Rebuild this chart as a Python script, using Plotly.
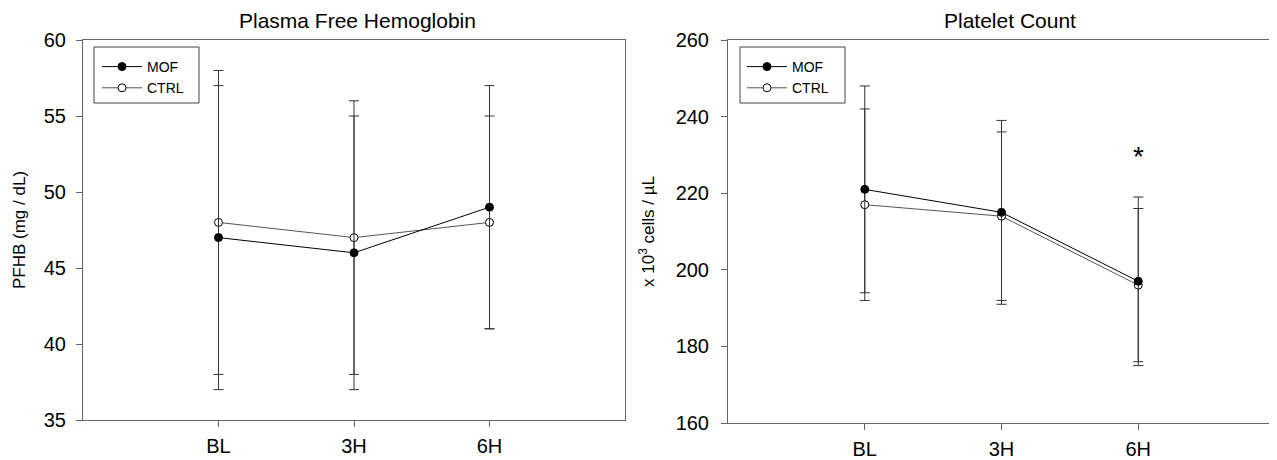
import plotly.graph_objects as go

# ---- data ----
categories = ["BL", "3H", "6H"]

pfhb_mof = [47, 46, 49]
pfhb_mof_err = [10, 9, 8]
pfhb_ctrl = [48, 47, 48]
pfhb_ctrl_err = [10, 9, 7]

plt_mof = [221, 215, 197]
plt_mof_err = [27, 24, 22]
plt_ctrl = [217, 214, 196]
plt_ctrl_err = [25, 22, 20]

sig_marker_y = 229.5  # asterisk position on platelet panel at 6H

# window is 1277x460; page body has an 8px margin
WIN_W, WIN_H = 1277, 460
OFF = 8
W, H = WIN_W - OFF, WIN_H - OFF
FONT = "Liberation Sans, Arial, sans-serif"
AXC = "#666666"
ERRC = "#333333"

xpos = list(range(len(categories)))


def px(x):
    return (x - OFF) / W


def py(y):
    return 1 - (y - OFF) / H


fig = go.Figure()


def add_series(xa, ya, mof, mof_err, ctrl, ctrl_err, legend):
    fig.add_trace(go.Scatter(
        x=xpos, y=ctrl, xaxis=xa, yaxis=ya, name="CTRL", legend=legend,
        mode="lines+markers",
        line=dict(color="#555555", width=1),
        marker=dict(symbol="circle", size=8, color="white",
                    line=dict(color="black", width=1)),
        error_y=dict(type="data", array=ctrl_err, visible=True,
                     color=ERRC, thickness=1, width=5),
        legendrank=2,
    ))
    fig.add_trace(go.Scatter(
        x=xpos, y=mof, xaxis=xa, yaxis=ya, name="MOF", legend=legend,
        mode="lines+markers",
        line=dict(color="black", width=1),
        marker=dict(symbol="circle", size=8, color="black",
                    line=dict(color="black", width=1)),
        error_y=dict(type="data", array=mof_err, visible=True,
                     color=ERRC, thickness=1, width=5),
        legendrank=1,
    ))


add_series("x", "y", pfhb_mof, pfhb_mof_err, pfhb_ctrl, pfhb_ctrl_err, "legend")
add_series("x2", "y2", plt_mof, plt_mof_err, plt_ctrl, plt_ctrl_err, "legend2")

# plot area pixel boxes (window coords): left, right, top, bottom
L1 = (83, 625, 40, 420)
L2 = (728, 1275, 40, 423)


def xaxis_cfg(box, anchor):
    return dict(
        domain=[px(box[0]), px(box[1])], range=[-1, 3], anchor=anchor,
        tickmode="array", tickvals=xpos, ticktext=categories,
        showline=True, linecolor=AXC, linewidth=1, mirror=True,
        ticks="outside", ticklen=6, tickcolor=AXC,
        showgrid=False, zeroline=False,
        tickfont=dict(family=FONT, size=20, color="black"),
        ticklabelstandoff=2,
    )


def yaxis_cfg(box, rng, dtick, title, anchor, standoff, lblstand):
    return dict(
        domain=[py(box[3]), py(box[2])], range=rng, dtick=dtick, anchor=anchor,
        showline=True, linecolor=AXC, linewidth=1, mirror=True,
        ticks="outside", ticklen=6, tickcolor=AXC,
        showgrid=False, zeroline=False,
        tickfont=dict(family=FONT, size=20, color="black"),
        ticklabelstandoff=lblstand,
        title=dict(text=title, font=dict(family=FONT, size=17, color="black"),
                   standoff=standoff),
    )


legend_common = dict(
    xanchor="left", yanchor="top", bgcolor="rgba(0,0,0,0)", borderwidth=0,
    font=dict(family=FONT, size=14, color="black"),
    itemwidth=40, tracegroupgap=0, traceorder="normal",
)

fig.update_layout(
    width=W, height=H,
    margin=dict(l=0, r=0, t=0, b=0, autoexpand=False),
    paper_bgcolor="white", plot_bgcolor="white",
    font=dict(family=FONT, color="black"),
    xaxis=xaxis_cfg(L1, "y"),
    yaxis=yaxis_cfg(L1, [35, 60], 5, "PFHB (mg / dL)", "x", 13, 6),
    xaxis2=xaxis_cfg(L2, "y2"),
    yaxis2=yaxis_cfg(L2, [160, 260], 20, "x 10<sup>3</sup> cells / µL", "x2", 16, 8),
    legend=dict(legend_common, x=px(97), y=py(51)),
    legend2=dict(legend_common, x=px(742), y=py(51)),
    shapes=[
        dict(type="rect", xref="paper", yref="paper",
             x0=px(94), x1=px(199), y0=py(103), y1=py(47),
             line=dict(color="#444444", width=1)),
        dict(type="rect", xref="paper", yref="paper",
             x0=px(740), x1=px(845), y0=py(103), y1=py(47),
             line=dict(color="#444444", width=1)),
    ],
    annotations=[
        dict(text="Plasma Free Hemoglobin", xref="paper", yref="paper",
             x=px((L1[0] + L1[1]) / 2 + 3), y=py(20), showarrow=False,
             xanchor="center", yanchor="middle",
             font=dict(family=FONT, size=21, color="black")),
        dict(text="Platelet Count", xref="paper", yref="paper",
             x=px((L2[0] + L2[1]) / 2 + 8), y=py(20), showarrow=False,
             xanchor="center", yanchor="middle",
             font=dict(family=FONT, size=21, color="black")),
        dict(text="*", xref="x2", yref="y2", x=xpos[2], y=sig_marker_y,
             showarrow=False, xanchor="center", yanchor="middle",
             font=dict(family=FONT, size=28, color="black")),
    ],
)

fig.write_html("out.html")
